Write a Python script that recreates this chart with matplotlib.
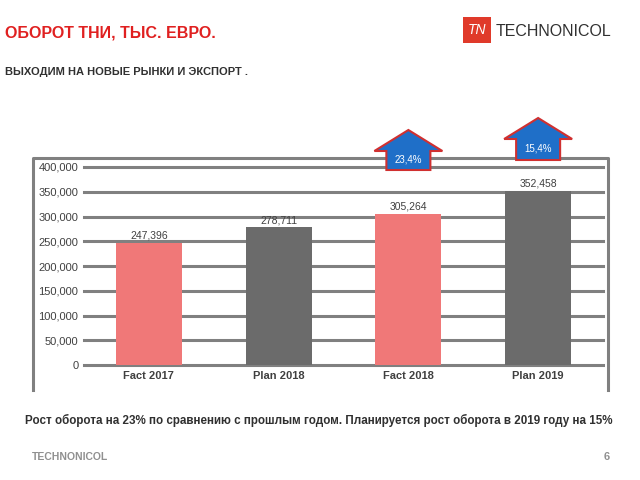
import matplotlib
matplotlib.use("Agg")
import matplotlib.pyplot as plt
from matplotlib.patches import Rectangle, Polygon
from matplotlib.lines import Line2D

plt.rcParams['font.family'] = ['Liberation Sans', 'DejaVu Sans']

categories = ["Fact 2017", "Plan 2018", "Fact 2018", "Plan 2019"]
values = [247396, 278711, 305264, 352458]
bar_colors = ["#f07878", "#6b6b6b", "#f07878", "#6b6b6b"]
growth_labels = ["23,4%", "15,4%"]
growth_bars = [2, 3]
yticks = [0, 50000, 100000, 150000, 200000, 250000, 300000, 350000, 400000]

W, H = 640, 480
fig = plt.figure(figsize=(6.4, 4.8), dpi=100)
fig.patch.set_facecolor("white")


def fx(px):
    return px / W


def fy(py):
    return 1 - py / H


# chart frame: left, top, right lines (no bottom)
frame_x = [fx(33), fx(33), fx(608), fx(608)]
frame_y = [fy(390), fy(158), fy(158), fy(390)]
fig.add_artist(Line2D(frame_x, frame_y, transform=fig.transFigure,
                      color="#808080", linewidth=2.2, zorder=0))

ax = fig.add_axes([fx(84), fy(365), fx(603) - fx(84), fy(167) - fy(365)])
ax.set_facecolor("none")
x = range(len(categories))
bars = ax.bar(x, values, width=0.51, color=bar_colors, zorder=3)
ax.set_xlim(-0.5, len(categories) - 0.5)
ax.set_ylim(0, 400000)
ax.set_yticks(yticks)
ax.set_yticklabels([f"{v:,}" if v else "0" for v in yticks], fontsize=8, color="#404040")
ax.set_xticks(list(x))
ax.set_xticklabels(categories, fontsize=8, color="#404040", fontweight="bold")
ax.tick_params(length=0, pad=4)
ax.grid(axis="y", color="#808080", linewidth=2.2, zorder=0)
for gl in ax.get_ygridlines():
    gl.set_clip_on(False)
ax.set_axisbelow(True)
for s in ax.spines.values():
    s.set_visible(False)

for b, v in zip(bars, values):
    ax.text(b.get_x() + b.get_width() / 2, v + 4000, f"{v:,}",
            ha="center", va="bottom", fontsize=7.5, color="#404040")

# growth arrows (pixel geometry: tip, wings, shaft bottom)
arrow_geom = [(130, 151, 170), (118, 139, 160)]
for idx, lab, (tip, wing, bottom) in zip(growth_bars, growth_labels, arrow_geom):
    cx_disp = ax.transData.transform((idx, 0))[0]
    cx = cx_disp / fig.dpi / fig.get_figwidth() * W
    hw, sw = 34, 22
    pts = [(cx, tip), (cx + hw, wing), (cx + sw, wing), (cx + sw, bottom),
           (cx - sw, bottom), (cx - sw, wing), (cx - hw, wing)]
    fig.patches.append(Polygon([(fx(px), fy(py)) for px, py in pts], closed=True,
                               transform=fig.transFigure, facecolor="#1f6fc8",
                               edgecolor="#d03030", linewidth=1.5, zorder=5))
    fig.text(fx(cx), fy((wing + bottom) / 2 - 1), lab, ha="center", va="center",
             fontsize=7, color="white", zorder=6)

# header texts
fig.text(fx(5), fy(33), "ОБОРОТ ТНИ, ТЫС. ЕВРО.", fontsize=11.5, fontweight="bold",
         color="#e02020", va="center")
fig.text(fx(5), fy(72), "ВЫХОДИМ НА НОВЫЕ РЫНКИ И ЭКСПОРТ .", fontsize=8,
         fontweight="bold", color="#303030", va="center")

# logo
fig.patches.append(Rectangle((fx(469), fy(47)), fx(137), fy(11) - fy(47),
                             transform=fig.transFigure, facecolor="white",
                             edgecolor="none", zorder=4))
fig.patches.append(Rectangle((fx(463), fy(43)), fx(28), fy(17) - fy(43),
                             transform=fig.transFigure, facecolor="#e03a2a",
                             edgecolor="none", zorder=5))
fig.text(fx(477), fy(30), "TN", ha="center", va="center", fontsize=10,
         color="white", fontstyle="italic", zorder=6)
fig.text(fx(496), fy(31), "TECHNONICOL", ha="left", va="center", fontsize=11.5,
         color="#303030", zorder=6)

# bottom texts
fig.text(fx(25), fy(420), "Рост оборота на 23% по сравнению с прошлым годом. "
         "Планируется рост оборота в 2019 году на 15%", fontsize=8.35,
         fontweight="bold", color="#303030", va="center")
fig.text(fx(32), fy(457), "TECHNONICOL", fontsize=7.5, fontweight="bold",
         color="#909090", va="center")
fig.text(fx(604), fy(457), "6", fontsize=8, fontweight="bold", color="#909090", va="center")

fig.savefig("out.png", dpi=100, facecolor="white")
